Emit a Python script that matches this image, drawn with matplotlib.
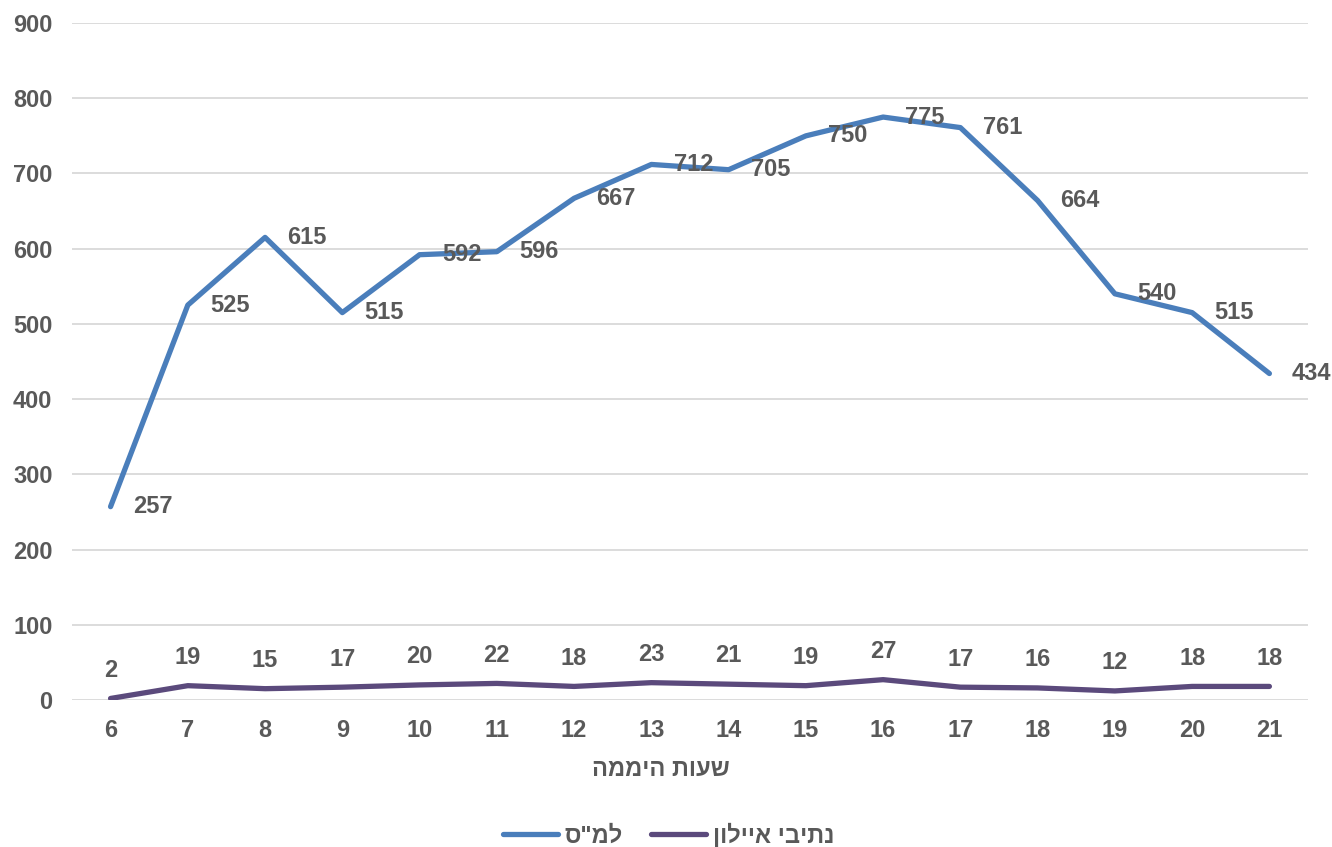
import numpy as np
import matplotlib.pyplot as plt

# hours of the day (category axis)
hours = ["6", "7", "8", "9", "10", "11", "12", "13", "14", "15", "16", "17", "18", "19", "20", "21"]

# series values
lamas = [257, 525, 615, 515, 592, 596, 667, 712, 705, 750, 775, 761, 664, 540, 515, 434]
ayalon = [2, 19, 15, 17, 20, 22, 18, 23, 21, 19, 27, 17, 16, 12, 18, 18]

# Hebrew labels (matplotlib has no bidi, so strings are stored in visual order)
name_lamas = 'ס"מל'          # למ"ס
name_ayalon = "ןולייא יביתנ"  # נתיבי איילון
xlabel = "הממיה תועש"         # שעות היממה

blue = "#4A7EBB"
purple = "#5B4A7C"
text_col = "#595959"

plt.rcParams["font.family"] = ["Liberation Sans", "DejaVu Sans"]
plt.rcParams["font.weight"] = "bold"

fig = plt.figure(figsize=(13.32, 8.47), dpi=100)
ax = fig.add_axes([0.054, 0.1736, 0.928, 0.7992])

x = np.arange(len(hours))
ax.plot(x, lamas, color=blue, lw=3.8, solid_capstyle="round", label=name_lamas)
ax.plot(x, ayalon, color=purple, lw=3.8, solid_capstyle="round", label=name_ayalon)

fs = 17

# data labels
for xi, v in zip(x, lamas):
    ax.annotate(str(v), (xi, v), xytext=(16, 0), textcoords="offset points",
                ha="left", va="center", fontsize=fs, fontweight="bold", color=text_col)
for xi, v in zip(x, ayalon):
    ax.annotate(str(v), (xi, v), xytext=(0, 12), textcoords="offset points",
                ha="center", va="bottom", fontsize=fs, fontweight="bold", color=text_col)

ax.set_xlim(-0.5, len(hours) - 0.5)
ax.set_ylim(0, 900)
ax.set_yticks(np.arange(0, 901, 100))
ax.set_xticks(x)
ax.set_xticklabels(hours)

ax.grid(axis="y", color="#D9D9D9", lw=1.3)
ax.set_axisbelow(True)
for s in ax.spines.values():
    s.set_visible(False)
ax.tick_params(axis="both", length=0, labelsize=fs, labelcolor=text_col)
ax.tick_params(axis="y", pad=14)
ax.tick_params(axis="x", pad=14)
for lbl in ax.get_xticklabels() + ax.get_yticklabels():
    lbl.set_fontweight("bold")

fig.text(0.496, 0.091, xlabel, ha="center", va="center", fontsize=fs,
         fontweight="bold", color=text_col)

leg = fig.legend(loc="center", bbox_to_anchor=(0.502, 0.014), ncol=2, frameon=False,
                 fontsize=fs, handlelength=2.3, handletextpad=0.3, columnspacing=1.2)
for t in leg.get_texts():
    t.set_color(text_col)
    t.set_fontweight("bold")

fig.savefig("out.png", dpi=100)
